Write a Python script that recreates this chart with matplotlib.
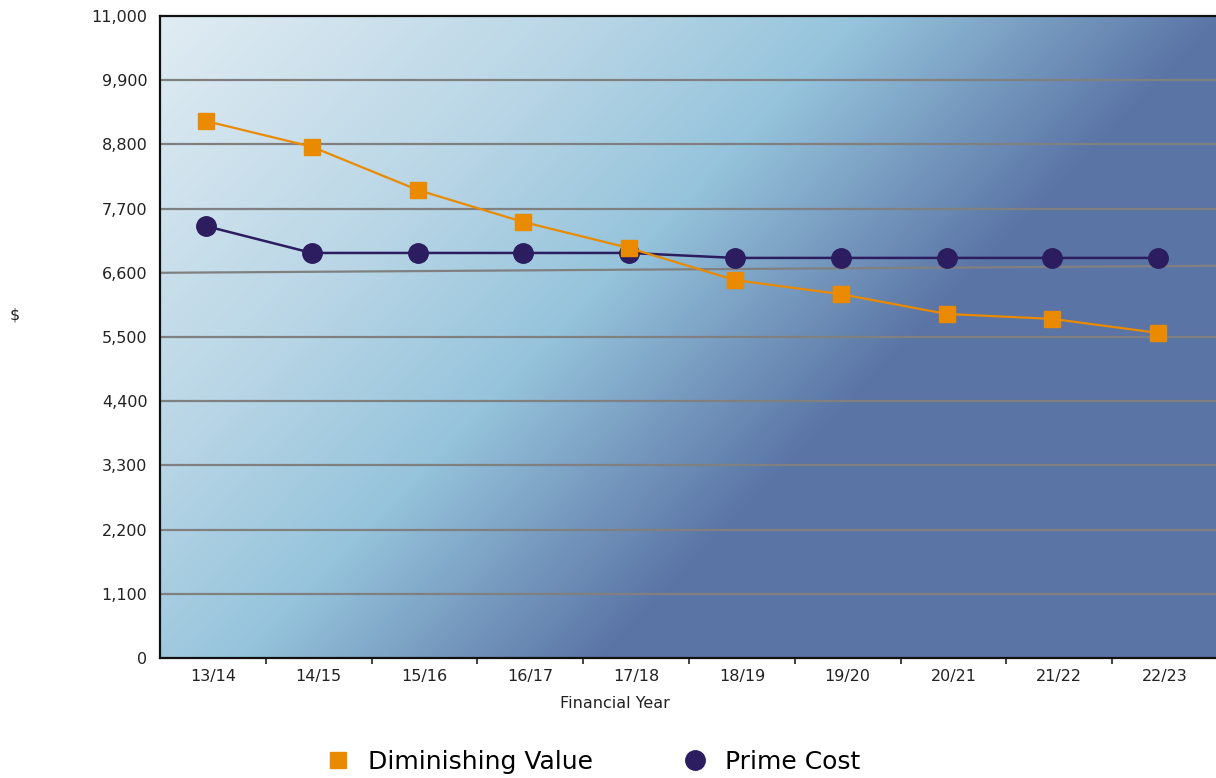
import matplotlib.pyplot as plt
import numpy as np
from matplotlib.colors import LinearSegmentedColormap
from matplotlib.lines import Line2D

years = ['13/14', '14/15', '15/16', '16/17', '17/18',
         '18/19', '19/20', '20/21', '21/22', '22/23']
diminishing_value = [9200, 8760, 8020, 7470, 7025, 6475, 6235, 5895, 5810, 5570]
prime_cost = [7400, 6940, 6940, 6940, 6940, 6855, 6855, 6855, 6855, 6855]
y_ticks = [0, 1100, 2200, 3300, 4400, 5500, 6600, 7700, 8800, 9900, 11000]
# the 6,600 rule runs slightly uphill to the right
skewed_rule = [6600, 6720]

orange = '#e98a00'
navy = '#2b1d5f'

fig = plt.figure(figsize=(12.16, 7.78), dpi=100)
ax = fig.add_axes([160 / 1216, 120 / 778, 1058 / 1216, 642 / 778])

n = len(years)
x = np.arange(n)
# markers sit a little left of the category centres
xm = x - 0.065
ax.set_xlim(-0.5, n - 0.5)
ax.set_ylim(0, 11000)

# diagonal gradient fill behind the plot
W, H = 1058, 642
gx, gy = np.meshgrid(np.arange(W), np.arange(H))
t = (gx + 0.97 * gy) / 1068.0
cmap = LinearSegmentedColormap.from_list(
    'bg', [(0.0, '#e0ecf3'), (0.4, '#b9d6e6'), (700 / 1068, '#96c4dc'),
           (1.0, '#5a74a5')])
ax.imshow(np.clip(t, 0, 1), cmap=cmap, vmin=0, vmax=1, aspect='auto',
          extent=(-0.5, n - 0.5, 0, 11000), origin='upper', zorder=0,
          interpolation='bilinear')

for v in y_ticks[1:-1]:
    if v == skewed_rule[0]:
        continue
    ax.axhline(v, color='#808080', lw=1.6, zorder=1)
ax.plot([-0.5, n - 0.5], skewed_rule, color='#808080', lw=1.6, zorder=1)

ax.plot(xm, diminishing_value, color=orange, lw=1.6, marker='s', ms=11.5,
        mec=orange, zorder=3)
ax.plot(xm, prime_cost, color=navy, lw=1.8, marker='o', ms=14,
        mec=navy, zorder=2)

ax.set_yticks(y_ticks)
ax.set_yticklabels([f'{v:,}' for v in y_ticks])
ax.tick_params(axis='y', length=0, pad=9, labelsize=11.5, labelcolor='#222222')
ax.set_xticks(x)
ax.set_xticklabels(years)
ax.set_xticks(np.arange(0.5, n - 1, 1), minor=True)
ax.tick_params(axis='x', which='major', length=0, pad=8, labelsize=11.5,
               labelcolor='#222222')
ax.tick_params(axis='x', which='minor', length=4, width=1.2, color='#222222')

for side in ['left', 'bottom', 'top']:
    ax.spines[side].set_linewidth(1.6)
    ax.spines[side].set_color('#111111')
ax.spines['right'].set_visible(False)

fig.text(15 / 1216, 1 - 315 / 778, '$', fontsize=11.5, ha='center', va='center',
         color='#222222')
fig.text(615 / 1216, 1 - 704 / 778, 'Financial Year', fontsize=11.5,
         ha='center', va='center', color='#222222')

handles = [
    Line2D([], [], ls='none', marker='s', ms=11.5, color=orange),
    Line2D([], [], ls='none', marker='o', ms=14, color=navy),
]
fig.legend(handles, ['Diminishing Value', 'Prime Cost'], ncol=2, frameon=False,
           loc='center', bbox_to_anchor=(593 / 1216, 1 - 762 / 778),
           fontsize=18, handletextpad=0.7, columnspacing=3.6, handlelength=1.0)

fig.savefig('out.png', dpi=100)
